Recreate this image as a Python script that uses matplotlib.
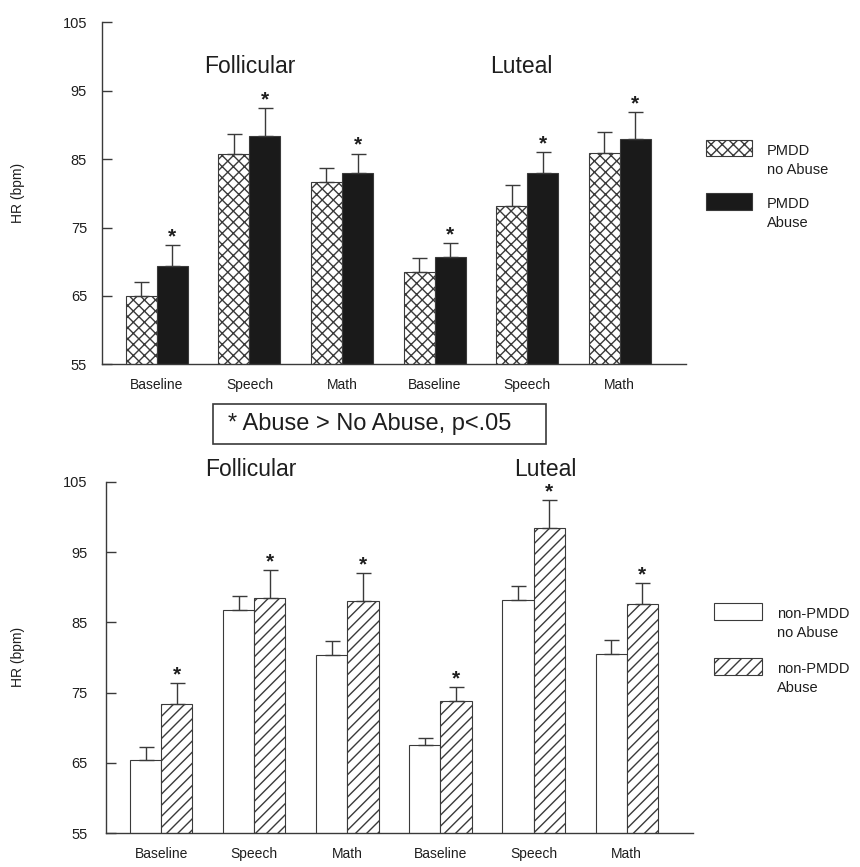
import numpy as np
import matplotlib
matplotlib.use('Agg')
import matplotlib.pyplot as plt
from matplotlib.patches import Rectangle

plt.rcParams['font.family'] = ['Liberation Sans', 'DejaVu Sans']
plt.rcParams['hatch.linewidth'] = 1.0

categories = ['Baseline', 'Speech', 'Math', 'Baseline', 'Speech', 'Math']
phases = ['Follicular', 'Luteal']

# top panel: PMDD women
top_noabuse = [65.0, 85.7, 81.7, 68.5, 78.2, 85.9]
top_noabuse_err = [2.0, 3.0, 2.0, 2.0, 3.0, 3.0]
top_abuse = [69.4, 88.4, 82.9, 70.7, 83.0, 88.0]
top_abuse_err = [3.0, 4.0, 2.9, 2.0, 3.0, 3.9]

# bottom panel: non-PMDD women
bot_noabuse = [65.4, 86.7, 80.4, 67.5, 88.2, 80.5]
bot_noabuse_err = [1.9, 2.0, 2.0, 1.0, 1.9, 2.0]
bot_abuse = [73.4, 88.4, 88.0, 73.8, 98.4, 87.6]
bot_abuse_err = [3.0, 4.0, 4.0, 2.0, 4.0, 3.0]

top_labels = ['PMDD\nno Abuse', 'PMDD\nAbuse']
bot_labels = ['non-PMDD\nno Abuse', 'non-PMDD\nAbuse']
note = '* Abuse > No Abuse, p<.05'

W, H = 860, 867
fig = plt.figure(figsize=(W / 100, H / 100), dpi=100)

def fx(px):
    return px / W

def fy(py):
    return 1 - py / H

line_c = '#3a3a3a'
txt_c = '#1e1e1e'
black = '#1a1a1a'

ax1 = fig.add_axes([fx(101.7), fy(364.3), fx(686) - fx(101.7), fy(22.3) - fy(364.3)])
ax2 = fig.add_axes([fx(105.7), fy(833.3), fx(693.3) - fx(105.7), fy(481.7) - fy(833.3)])

x = np.arange(len(categories))
w = 0.335

def draw_panel(ax, v1, e1, v2, e2, style1, style2, ypad):
    ax.bar(x - w / 2, v1, w, **style1)
    ax.bar(x + w / 2, v2, w, **style2)
    ax.errorbar(x - w / 2, v1, yerr=[np.zeros(len(x)), e1], fmt='none',
                ecolor=line_c, elinewidth=1, capsize=5.4, capthick=1, zorder=1)
    ax.errorbar(x + w / 2, v2, yerr=[np.zeros(len(x)), e2], fmt='none',
                ecolor=line_c, elinewidth=1, capsize=5.4, capthick=1, zorder=1)
    for xi, v, e in zip(x + w / 2, v2, e2):
        ax.annotate('*', xy=(xi, v + e), xytext=(0, 2), textcoords='offset points',
                    ha='center', va='baseline', fontsize=15, fontweight='bold', color=txt_c)
    ax.set_ylim(55, 105)
    ax.set_xlim(-0.595, 5.715)
    ax.set_yticks([55, 65, 75, 85, 95, 105])
    ax.set_xticks(x)
    ax.set_xticklabels(categories, fontsize=10, color=txt_c)
    ax.tick_params(axis='x', length=0, pad=10)
    ax.tick_params(axis='y', direction='in', length=7.2, width=1, color=line_c,
                   labelsize=10.5, labelcolor=txt_c, pad=ypad)
    for s in ['top', 'right']:
        ax.spines[s].set_visible(False)
    for s in ['left', 'bottom']:
        ax.spines[s].set_color(line_c)
        ax.spines[s].set_linewidth(1)

top_s1 = dict(color='white', edgecolor=line_c, hatch='xxx', linewidth=0.8)
top_s2 = dict(color=black, edgecolor=line_c, linewidth=0.8)
bot_s1 = dict(color='white', edgecolor=line_c, linewidth=0.8)
bot_s2 = dict(color='white', edgecolor=line_c, hatch='///', linewidth=0.8)

draw_panel(ax1, top_noabuse, top_noabuse_err, top_abuse, top_abuse_err, top_s1, top_s2, 10.5)
draw_panel(ax2, bot_noabuse, bot_noabuse_err, bot_abuse, bot_abuse_err, bot_s1, bot_s2, 13)

# y labels
fig.text(fx(18), fy(193), 'HR (bpm)', rotation=90, ha='center', va='center', fontsize=10, color=txt_c)
fig.text(fx(18), fy(657), 'HR (bpm)', rotation=90, ha='center', va='center', fontsize=10, color=txt_c)

# phase titles
fig.text(fx(250), fy(72.7), phases[0], ha='center', va='baseline', fontsize=16.5, color=txt_c)
fig.text(fx(521), fy(72.7), phases[1], ha='center', va='baseline', fontsize=16.5, color=txt_c)
fig.text(fx(251), fy(476), phases[0], ha='center', va='baseline', fontsize=16.5, color=txt_c)
fig.text(fx(545), fy(476), phases[1], ha='center', va='baseline', fontsize=16.5, color=txt_c)

# significance note box
fig.add_artist(Rectangle((fx(212.7), fy(444)), fx(546) - fx(212.7), fy(404) - fy(444),
                         transform=fig.transFigure, facecolor='white', edgecolor=line_c, linewidth=1.2))
fig.text(fx(228), fy(424), note, ha='left', va='center', fontsize=17, color=txt_c)

# legends
def legend_item(x0, y0, x1, y1, style, label):
    st = dict(style)
    fc = st.pop('color')
    fig.add_artist(Rectangle((fx(x0), fy(y1)), fx(x1) - fx(x0), fy(y0) - fy(y1),
                             transform=fig.transFigure, facecolor=fc, **st))
    fig.text(fx(x1 + 15), fy(y0 + 4), label, ha='left', va='top', fontsize=10.5,
             linespacing=1.45, color=txt_c)

legend_item(706, 140, 752, 156, top_s1, top_labels[0])
legend_item(706, 193, 752, 210, top_s2, top_labels[1])
legend_item(714, 603, 762, 620, bot_s1, bot_labels[0])
legend_item(714, 658, 762, 675, bot_s2, bot_labels[1])

fig.savefig('out.png', dpi=100)
